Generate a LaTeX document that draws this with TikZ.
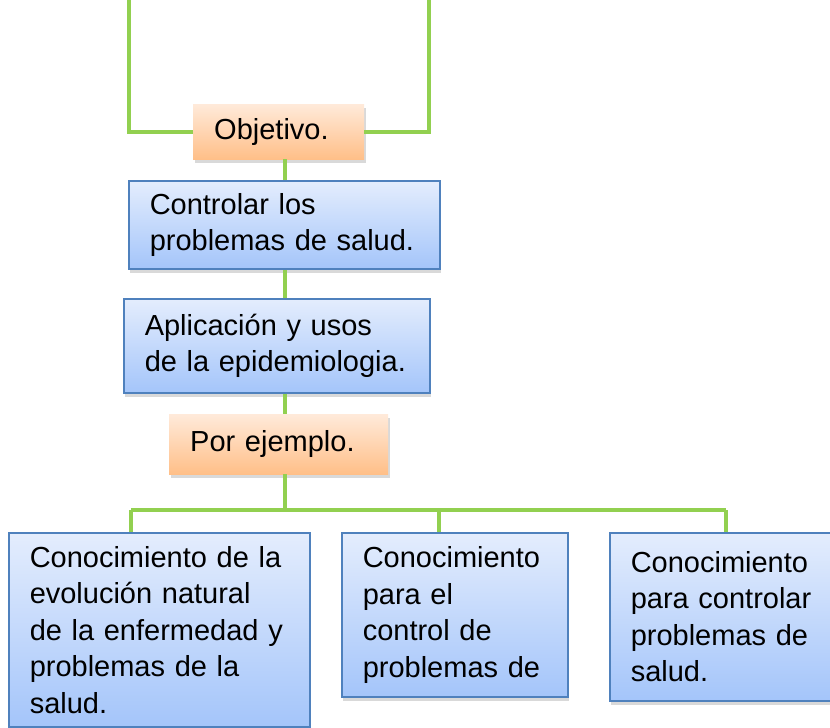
\documentclass[tikz,border=0pt]{standalone}
\usepackage{fontspec}
\setmainfont{Liberation Sans}
\usetikzlibrary{shadows}

\definecolor{linkgreen}{RGB}{146,208,80}
\definecolor{boxedge}{RGB}{79,129,189}
\definecolor{bluetop}{RGB}{228,237,253}
\definecolor{bluebot}{RGB}{164,197,250}
\definecolor{orangetop}{RGB}{255,234,218}
\definecolor{orangebot}{RGB}{255,191,136}

\tikzset{
  card/.style={anchor=north west, align=left, inner xsep=21pt, inner ysep=0pt,
    font=\fontsize{29}{36.5}\selectfont,
    drop shadow={shadow xshift=1.5pt, shadow yshift=-4pt, opacity=.3}},
  bluebox/.style={card, draw=boxedge, line width=1.5pt,
    top color=bluetop, bottom color=bluebot},
  tagbox/.style={card, top color=orangetop, bottom color=orangebot},
  link/.style={draw=linkgreen, line width=4pt}
}

\begin{document}
\begin{tikzpicture}[x=1pt,y=-1pt]
            \useasboundingbox (0,0) rectangle (830,728);

            \node[tagbox,text width=129pt,minimum height=55pt] (obj) at (193,104) {Objetivo.};
            \node[bluebox,text width=269pt,minimum height=88pt] (ctrl) at (128,180) {Controlar los\\problemas de salud.};
            \node[bluebox,text width=264pt,minimum height=94pt] (apl) at (123,298) {Aplicación y usos\\de la epidemiologia.};
            \node[tagbox,text width=177pt,minimum height=60pt] (ej) at (169,414) {Por ejemplo.};

            \node[bluebox,text width=259pt,minimum height=194pt] (k1) at (8,532) {Conocimiento de la\\evolución natural\\de la enfermedad y\\problemas de la\\salud.};
            \node[bluebox,text width=184pt,minimum height=164pt] (k2) at (341,532) {Conocimiento\\para el\\control de\\problemas de};
            \node[bluebox,text width=198pt,minimum height=168pt] (k3) at (609,532) {Conocimiento\\para controlar\\problemas de\\salud.};

            \coordinate (topL) at (129,0);
            \coordinate (topR) at (429,0);
            \coordinate (spine) at (285,0);
            \coordinate (b1) at (131,510);
            \coordinate (b2) at (439,510);
            \coordinate (b3) at (726,510);

            \draw[link] (topL) |- (obj.west);
            \draw[link] (obj.east) -| (topR);
            \draw[link] (obj.south -| spine) -- (ctrl.north -| spine);
            \draw[link] (ctrl.south -| spine) -- (apl.north -| spine);
            \draw[link] (apl.south -| spine) -- (ej.north -| spine);
            \draw[link] (ej.south -| spine) -- (b1 -| spine);
            \draw[link] (b1) -- (b3);
            \draw[link] (b1) -- (k1.north -| b1);
            \draw[link] (b2) -- (k2.north -| b2);
            \draw[link] (b3) -- (k3.north -| b3);

        \end{tikzpicture}
\end{document}
